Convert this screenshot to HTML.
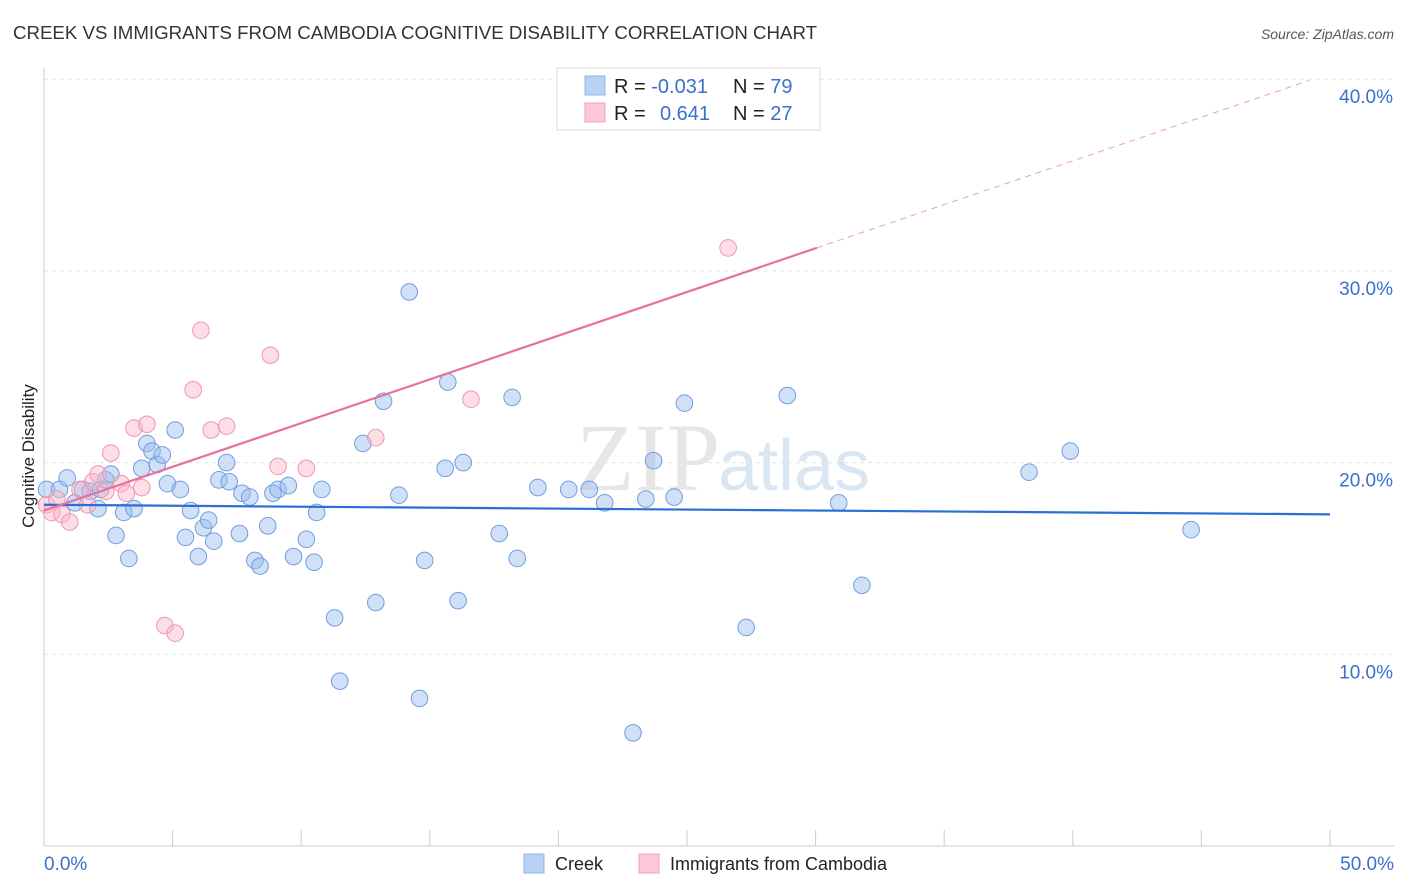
<!DOCTYPE html>
<html><head><meta charset="utf-8"><style>
body{margin:0;background:#fff;font-family:"Liberation Sans",sans-serif;}
svg{display:block}
</style></head><body>
<svg id="c" width="1406" height="892" font-family="Liberation Sans, sans-serif">
<text x="13" y="39" font-size="18" fill="#333" textLength="804" lengthAdjust="spacingAndGlyphs">CREEK VS IMMIGRANTS FROM CAMBODIA COGNITIVE DISABILITY CORRELATION CHART</text>
<text x="1394" y="39" font-size="14" fill="#555" font-style="italic" text-anchor="end">Source: ZipAtlas.com</text>
<text x="720" y="490" font-size="96" fill="#e6e6e6" text-anchor="end" font-family="Liberation Serif, serif">ZIP</text>
<text x="718" y="490" font-size="72" fill="#dbe6f4">atlas</text>
<g id="grid"></g><g id="axes"></g><g id="marks"></g>
<text transform="translate(34,456) rotate(-90)" font-size="17" fill="#222" text-anchor="middle">Cognitive Disability</text>
<g>
<rect x="557" y="68" width="263" height="62" fill="#fff" stroke="#ddd"/>
<rect x="585" y="76" width="20" height="19" fill="#b8d2f5" stroke="#8fb4e8"/>
<rect x="585" y="103" width="20" height="19" fill="#fcc8d8" stroke="#f0a0b8"/>
<text x="614" y="93" font-size="20" fill="#222">R = <tspan fill="#3a6fd0">-0.031</tspan></text>
<text x="733" y="93" font-size="20" fill="#222">N = <tspan fill="#3a6fd0">79</tspan></text>
<text x="614" y="120" font-size="20" fill="#222">R = </text>
<text x="660" y="120" font-size="20" fill="#3a6fd0">0.641</text>
<text x="733" y="120" font-size="20" fill="#222">N = <tspan fill="#3a6fd0">27</tspan></text>
</g>
<g>
<rect x="524" y="854" width="20" height="19" fill="#b8d2f5" stroke="#8fb4e8"/>
<text x="555" y="870" font-size="18" fill="#222">Creek</text>
<rect x="639" y="854" width="20" height="19" fill="#fcc8d8" stroke="#f0a0b8"/>
<text x="670" y="870" font-size="18" fill="#222">Immigrants from Cambodia</text>
</g>
</svg>
<script>
const creekX=[0.1,0.6,0.9,1.2,1.5,1.8,2.1,2.2,2.4,2.6,2.8,3.1,3.3,3.5,3.8,4.0,4.2,4.4,4.6,4.8,5.1,5.3,5.5,5.7,6.0,6.2,6.4,6.6,6.8,7.1,7.2,7.6,7.7,8.0,8.2,8.4,8.7,8.9,9.1,9.5,9.7,10.2,10.5,10.6,10.8,11.3,11.5,12.4,12.9,13.2,13.8,14.2,14.6,14.8,15.6,15.7,16.1,16.3,17.7,18.2,18.4,19.2,20.4,21.2,21.8,22.9,23.4,23.7,24.5,24.9,27.3,28.9,30.9,31.8,38.3,39.9,44.6];
const creekY=[18.6,18.6,19.2,17.9,18.6,18.5,17.6,18.6,19.1,19.4,16.2,17.4,15.0,17.6,19.7,21.0,20.6,19.9,20.4,18.9,21.7,18.6,16.1,17.5,15.1,16.6,17.0,15.9,19.1,20.0,19.0,16.3,18.4,18.2,14.9,14.6,16.7,18.4,18.6,18.8,15.1,16.0,14.8,17.4,18.6,11.9,8.6,21.0,12.7,23.2,18.3,28.9,7.7,14.9,19.7,24.2,12.8,20.0,16.3,23.4,15.0,18.7,18.6,18.6,17.9,5.9,18.1,20.1,18.2,23.1,11.4,23.5,17.9,13.6,19.5,20.6,16.5];
const cambX=[0.1,0.3,0.5,0.7,1.0,1.4,1.7,1.9,2.1,2.4,2.6,3.0,3.2,3.5,3.8,4.0,4.7,5.1,5.8,6.1,6.5,7.1,8.8,9.1,10.2,12.9,16.6,26.6];
const cambY=[17.8,17.4,18.1,17.3,16.9,18.6,17.8,19.0,19.4,18.5,20.5,18.9,18.4,21.8,18.7,22.0,11.5,11.1,23.8,26.9,21.7,21.9,25.6,19.8,19.7,21.3,23.3,31.2];
const yTicks=[10,20,30,40];
const yTickLabels=["10.0%","20.0%","30.0%","40.0%"];
const xTicks=[0,5,10,15,20,25,30,35,40,45,50];
const creekTrend=[17.8,17.3];
const cambTrend=[17.5,0.456];
const NS="http://www.w3.org/2000/svg";
const X=v=>44+v*25.72, Y=v=>846-v*19.17;
function mk(p,t,a){const e=document.createElementNS(NS,t);for(const k in a)e.setAttribute(k,a[k]);document.getElementById(p).appendChild(e);return e;}
yTicks.forEach((t,i)=>{
 let l=mk('grid','line',{x1:44,x2:1394,y1:Y(t),y2:Y(t),stroke:'#e4e4e4','stroke-dasharray':'4,4'});
 
 
 let tx=mk('axes','text',{x:1393,y:Y(t)+24,'font-size':19,fill:'#3a6fd0','text-anchor':'end'});
 tx.textContent=yTickLabels[i];
 
 
});
let ya=mk('axes','line',{x1:44,x2:44,y1:68,y2:846,stroke:'#ccc'});


let xa=mk('axes','line',{x1:44,x2:1394,y1:846,y2:846,stroke:'#ccc'});


xTicks.forEach(t=>{
 let l=mk('axes','line',{x1:X(t),x2:X(t),y1:830,y2:846,stroke:'#ccc'});
 
 
});
[[0,"0.0%","start",44],[50,"50.0%","end",1394]].forEach(d=>{
 let tx=mk('axes','text',{x:d[3],y:870,'font-size':19,fill:'#3a6fd0','text-anchor':d[2]});
 tx.textContent=d[1];
 
 
});
creekX.forEach((x,i)=>{
 let c=mk('marks','circle',{cx:X(x),cy:Y(creekY[i]),r:8.3,fill:'rgba(150,188,238,0.45)',stroke:'#6f9de0','stroke-width':1});
 
 
});
cambX.forEach((x,i)=>{
 let c=mk('marks','circle',{cx:X(x),cy:Y(cambY[i]),r:8.3,fill:'rgba(250,180,200,0.45)',stroke:'#ee96b2','stroke-width':1});
 
 
});
let bl=mk('marks','line',{x1:X(0),y1:Y(creekTrend[0]),x2:X(50),y2:Y(creekTrend[1]),stroke:'#2b6fd6','stroke-width':2.2});


const ce=30.05, cd=49.2;
let pl=mk('marks','line',{x1:X(0),y1:Y(cambTrend[0]),x2:X(ce),y2:Y(cambTrend[0]+cambTrend[1]*ce),stroke:'#e8709a','stroke-width':2.2});


let pd=mk('marks','line',{x1:X(ce),y1:Y(cambTrend[0]+cambTrend[1]*ce),x2:X(cd),y2:Y(cambTrend[0]+cambTrend[1]*cd),stroke:'#e8a0b8','stroke-width':1,'stroke-dasharray':'6,5'});


</script>
</body></html>
